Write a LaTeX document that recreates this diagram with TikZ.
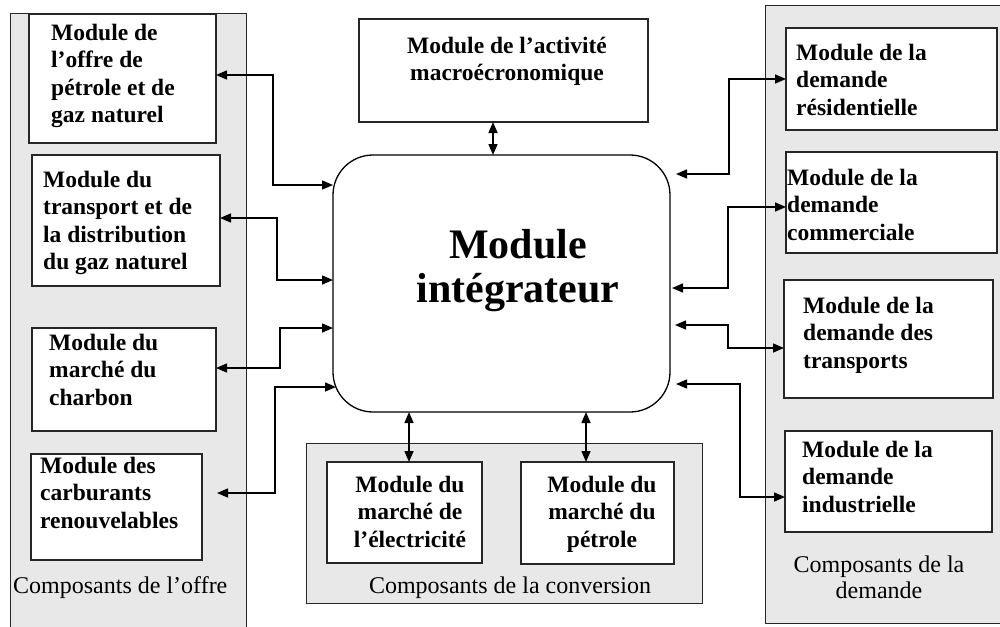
\documentclass[tikz,border=0pt]{standalone}
\usepackage{fontspec}
\setmainfont{Liberation Serif}
\usetikzlibrary{arrows.meta}
\definecolor{panelgray}{RGB}{232,232,232}
\begin{document}
\begin{tikzpicture}[x=1pt,y=-1pt,
  panel/.style={draw=black!85,line width=1.1pt,fill=panelgray},
  box/.style={draw=black!85,line width=1.2pt,fill=white,anchor=north west,inner sep=0pt,outer sep=0pt},
  central/.style={draw=black,line width=1.3pt,fill=white,rounded corners=40pt,anchor=north west,inner sep=0pt,outer sep=0pt},
  btext/.style={inner sep=0pt,font=\fontsize{23.5}{27.5}\selectfont\bfseries},
  rtext/.style={inner sep=0pt,font=\fontsize{24}{26}\selectfont},
  conn/.style={line width=1.5pt,{Triangle[length=11pt,width=9pt]}-{Triangle[length=11pt,width=9pt]}}]
\useasboundingbox (0,0) rectangle (1000,626);
\clip (0,0) rectangle (1000,626);
% panels
\node[panel,anchor=north west,minimum width=236pt,minimum height=640pt,inner sep=0pt] (poffre) at (10,13) {};
\node[panel,anchor=north west,minimum width=260pt,minimum height=618pt,inner sep=0pt] (pdem) at (765,5) {};
\node[panel,anchor=north west,minimum width=396pt,minimum height=160pt,inner sep=0pt] (pconv) at (306,443) {};
% boxes
\node[box,minimum width=187pt,minimum height=129pt] (b1) at (29,14) {};
\node[box,minimum width=188pt,minimum height=131pt] (b2) at (32,155) {};
\node[box,minimum width=184pt,minimum height=103pt] (b3) at (32,328) {};
\node[box,minimum width=171pt,minimum height=106pt] (b4) at (31,454) {};
\node[box,minimum width=289pt,minimum height=103pt] (mac) at (359,19) {};
\node[central,minimum width=337pt,minimum height=257pt] (cen) at (333,155) {};
\node[box,minimum width=155pt,minimum height=101pt] (elec) at (327,462) {};
\node[box,minimum width=153pt,minimum height=102pt] (pet) at (521,462) {};
\node[box,minimum width=211pt,minimum height=102pt] (r1) at (786,28) {};
\node[box,minimum width=211pt,minimum height=101pt] (r2) at (786,152) {};
\node[box,minimum width=209pt,minimum height=118pt] (r3) at (784,280) {};
\node[box,minimum width=207pt,minimum height=101pt] (r4) at (785,431) {};
% texts
\node[btext,anchor=north west,align=left] (b1t) at (51,20.75) {\strut Module de\\l’offre de\\pétrole et de\\gaz naturel};
\node[btext,anchor=north west,align=left] (b2t) at (43,167.75) {\strut Module du\\transport et de\\la distribution\\du gaz naturel};
\node[btext,anchor=north west,align=left] (b3t) at (49,330.75) {\strut Module du\\marché du\\charbon};
\node[btext,anchor=north west,align=left] (b4t) at (40,453.75) {\strut Module des\\carburants\\renouvelables};
\node[btext,anchor=north,align=center] (mact) at (507,33.75) {\strut Module de l’activité\\macroécronomique};
\node[inner sep=0pt,anchor=north,align=center,font=\fontsize{42}{44}\selectfont\bfseries] (cent) at (518,227.2) {\strut Module\\intégrateur};
\node[btext,anchor=north,align=center] (elect) at (410,472.75) {\strut Module du\\marché de\\l’électricité};
\node[btext,anchor=north,align=center] (pett) at (602,472.75) {\strut Module du\\marché du\\pétrole};
\node[btext,anchor=north west,align=left] (r1t) at (796,40.75) {\strut Module de la\\demande\\résidentielle};
\node[btext,anchor=north west,align=left] (r2t) at (787,165.75) {\strut Module de la\\demande\\commerciale};
\node[btext,anchor=north west,align=left] (r3t) at (803,293.75) {\strut Module de la\\demande des\\transports};
\node[btext,anchor=north west,align=left] (r4t) at (802,437.75) {\strut Module de la\\demande\\industrielle};
\node[rtext,anchor=base west] (loffre) at (13,593) {Composants de l’offre};
\node[rtext,anchor=base] (lconv) at (510,593) {Composants de la conversion};
\node[rtext,anchor=north,align=center] (ldem) at (879,553.8) {\strut Composants de la\\demande};
% connectors left
\draw[conn] ([yshift=3.5pt]b1.east) -- ++(57,0) |- ([yshift=98.5pt]cen.west);
\draw[conn] ([yshift=2.5pt]b2.east) -- ++(57,0) |- ([yshift=3.5pt]cen.west);
\draw[conn] ([yshift=11.5pt]b3.east) -- ++(64,0) |- ([yshift=-44.5pt]cen.west);
\draw[conn] ([xshift=15pt,yshift=14pt]b4.east) -- ++(58,0) |- ([xshift=3pt,yshift=-103.5pt]cen.west);
% connectors right
\draw[conn] ([xshift=6pt,yshift=109.5pt]cen.east) -- ++(53,0) |- (r1.west);
\draw[conn] ([xshift=2pt,yshift=-4.5pt]cen.east) -- ++(56,0) |- ([yshift=-4.5pt]r2.west);
\draw[conn] ([xshift=5pt,yshift=-41.5pt]cen.east) -- ++(53,0) |- ([yshift=-9pt]r3.west);
\draw[conn] ([xshift=6pt,yshift=-100.5pt]cen.east) -- ++(64,0) |- ([yshift=-15.5pt]r4.west);
% connectors vertical
\draw[conn] ([xshift=-10.5pt]mac.south) -- ([xshift=-8.5pt]cen.north);
\draw[conn] ([xshift=-92.5pt]cen.south) -- ([xshift=4.5pt]elec.north);
\draw[conn] ([xshift=84.5pt]cen.south) -- ([xshift=-11.5pt]pet.north);
\end{tikzpicture}
\end{document}
